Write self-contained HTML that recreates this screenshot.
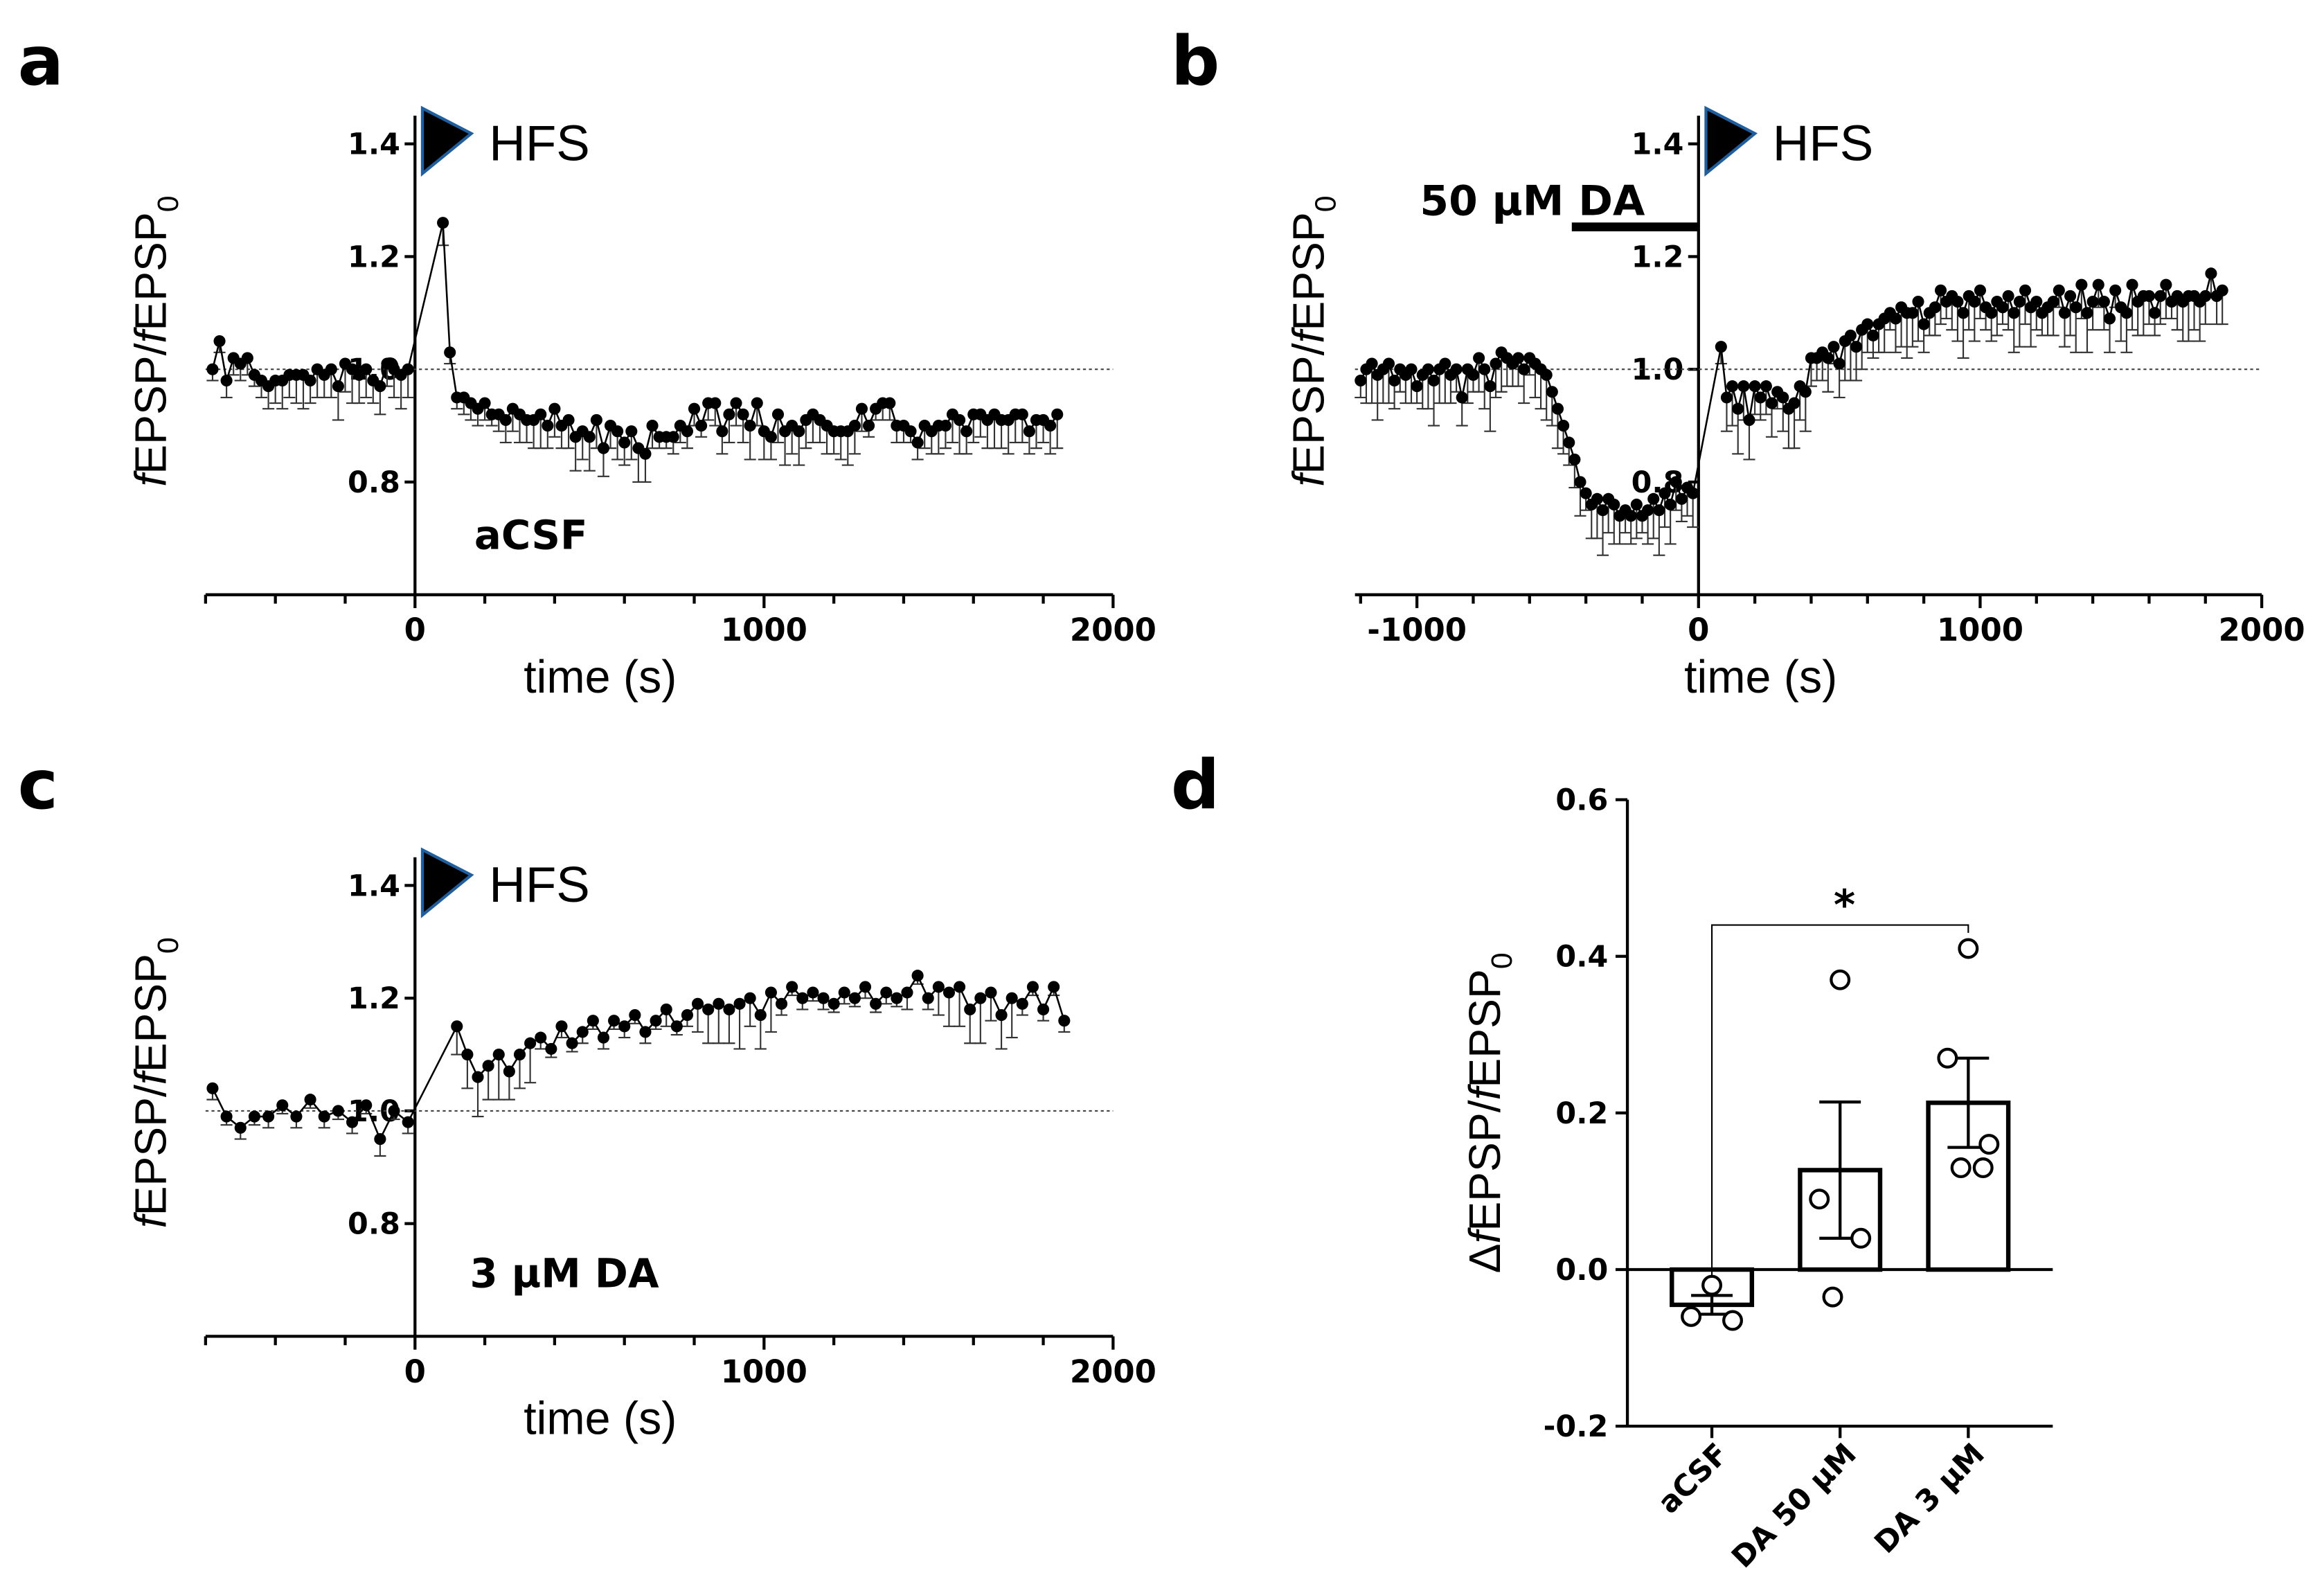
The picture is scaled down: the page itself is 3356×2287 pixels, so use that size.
<!DOCTYPE html>
<html><head><meta charset="utf-8"><style>
html,body{margin:0;padding:0;background:#fff}
svg{display:block}
text{font-family:"Liberation Sans",sans-serif}
.b{font-family:"DejaVu Sans","Liberation Sans",sans-serif;font-weight:bold}
</style></head><body>
<svg id="fig" width="3356" height="2287" viewBox="0 0 1568 1068" preserveAspectRatio="none" xmlns="http://www.w3.org/2000/svg"></svg>
<script>
// Panel a data
const aPreStart=-580, aStep=20;
const aPre=[1.0,1.05,0.98,1.02,1.01,1.02,0.99,0.98,0.97,0.98,0.98,0.99,0.99,0.99,0.98,1.0,0.99,1.0,0.97,1.01,1.0,0.99,1.0,0.98,0.97,1.01,1.0,0.99,1.0];
const aPostStart=80;
const aPost=[1.26,1.03,0.95,0.95,0.94,0.93,0.94,0.92,0.92,0.91,0.93,0.92,0.91,0.91,0.92,0.90,0.93,0.90,0.91,0.88,0.89,0.88,0.91,0.86,0.90,0.89,0.87,0.89,0.86,0.85,0.90,0.88,0.88,0.88,0.90,0.89,0.93,0.90,0.94,0.94,0.89,0.92,0.94,0.92,0.90,0.94,0.89,0.88,0.92,0.89,0.90,0.89,0.91,0.92,0.91,0.90,0.89,0.89,0.89,0.90,0.93,0.90,0.93,0.94,0.94,0.90,0.90,0.89,0.87,0.90,0.89,0.90,0.90,0.92,0.91,0.89,0.92,0.92,0.91,0.92,0.91,0.91,0.92,0.92,0.89,0.91,0.91,0.90,0.92];
const aErr=[0.02,0.02,0.03,0.03,0.03,0.03,0.02,0.03,0.04,0.04,0.05,0.04,0.05,0.06,0.04,0.05,0.04,0.05,0.06,0.05,0.06,0.05,0.05,0.04,0.05,0.04,0.05,0.06,0.05,0.04];
// Panel b data
const bPreStart=-1200, bStep=20;
const bPre=[0.98,1.0,1.01,0.99,1.0,1.01,0.98,1.0,0.99,1.0,0.97,0.99,1.0,0.98,1.0,1.01,0.99,1.0,0.95,1.0,0.99,1.02,1.0,0.97,1.01,1.03,1.02,1.01,1.02,1.0,1.02,1.01,1.0,0.99,0.96,0.93,0.90,0.87,0.84,0.80,0.78,0.76,0.77,0.75,0.77,0.76,0.74,0.75,0.74,0.76,0.74,0.75,0.77,0.75,0.78,0.76,0.80,0.77,0.79,0.78];
const bPostStart=80;
const bPost=[1.04,0.95,0.97,0.93,0.97,0.91,0.97,0.95,0.97,0.94,0.96,0.95,0.93,0.94,0.97,0.96,1.02,1.02,1.03,1.02,1.04,1.01,1.05,1.06,1.04,1.07,1.08,1.06,1.08,1.09,1.10,1.09,1.11,1.10,1.10,1.12,1.08,1.10,1.11,1.14,1.12,1.13,1.12,1.10,1.13,1.12,1.14,1.11,1.10,1.12,1.11,1.13,1.10,1.12,1.14,1.11,1.12,1.10,1.11,1.12,1.14,1.10,1.13,1.11,1.15,1.10,1.12,1.15,1.12,1.09,1.14,1.11,1.10,1.15,1.12,1.13,1.13,1.10,1.13,1.15,1.12,1.13,1.12,1.13,1.13,1.12,1.13,1.17,1.13,1.14];
const bErr=[0.03,0.06,0.07,0.08,0.06,0.07,0.05,0.04,0.05,0.06];
// Panel c data
const cPreStart=-580, cStep=40;
const cPre=[1.04,0.99,0.97,0.99,0.99,1.01,0.99,1.02,0.99,1.0,0.98,1.01,0.95,1.0,0.98];
const cPostStart=120, cPostStep=30;
const cPost=[1.15,1.10,1.06,1.08,1.10,1.07,1.10,1.12,1.13,1.11,1.15,1.12,1.14,1.16,1.13,1.16,1.15,1.17,1.14,1.16,1.18,1.15,1.17,1.19,1.18,1.19,1.18,1.19,1.20,1.17,1.21,1.19,1.22,1.20,1.21,1.20,1.19,1.21,1.20,1.22,1.19,1.21,1.20,1.21,1.24,1.20,1.22,1.21,1.22,1.18,1.20,1.21,1.17,1.20,1.19,1.22,1.18,1.22,1.16];
const cErr=[0.02,0.015,0.02,0.015,0.02,0.015,0.02,0.015,0.02,0.015,0.02,0.015,0.03,0.015,0.02,0.05,0.06,0.07,0.06,0.08,0.05,0.06,0.07];
// Panel d data
const dCats=["aCSF","DA 50 µM","DA 3 µM"];
const dMeans=[-0.045,0.127,0.213];
const dSem=[0.012,0.087,0.057];
const dPts=[[-0.02,-0.06,-0.065],[0.37,0.09,0.04,-0.035],[0.41,0.27,0.16,0.13,0.13]];

const S=document.getElementById('fig'),NS='http://www.w3.org/2000/svg';
function mk(tag,at,par,name,txt){const e=document.createElementNS(NS,tag);for(const k in at)e.setAttribute(k,at[k]);


if(txt!==undefined)e.textContent=txt;(par||S).appendChild(e);return e;}

function panel(o){
 const g=mk('g',{},S,o.name);
 const X=t=>o.x0+(t)*o.sx, Y=v=>o.y1+(1.0-v)*380;
 mk('line',{x1:X(o.tmin),x2:X(o.tmax),y1:Y(0.6),y2:Y(0.6),stroke:'#000','stroke-width':2},g,'x-axis');
 mk('line',{x1:X(0),x2:X(0),y1:Y(0.6),y2:Y(1.45),stroke:'#000','stroke-width':2},g,'y-axis');
 for(let t=Math.ceil(o.tmin/200)*200;t<=o.tmax;t+=200){const maj=t%1000===0;
  mk('line',{x1:X(t),x2:X(t),y1:Y(0.6),y2:Y(0.6)+(maj?9:6),stroke:'#000','stroke-width':2},g,'x-tick');
  if(maj)mk('text',{x:X(t),y:Y(0.6)+31,'text-anchor':'middle','font-size':21,class:'b'},g,'x-tick-label',String(t));}
 [0.8,1.0,1.2,1.4].forEach(v=>{mk('line',{x1:X(0)-7,x2:X(0),y1:Y(v),y2:Y(v),stroke:'#000','stroke-width':2},g,'y-tick');
  mk('text',{x:X(0)-10,y:Y(v)+7,'text-anchor':'end','font-size':20,class:'b'},g,'y-tick-label',v.toFixed(1));});
 mk('line',{x1:X(o.tmin),x2:X(o.tmax),y1:Y(1),y2:Y(1),stroke:'#444','stroke-width':1,'stroke-dasharray':'2,2'},g,'baseline-dashed');
 mk('text',{x:o.tx,y:Y(0.6)+66,'text-anchor':'middle','font-size':31},g,'x-axis-title','time (s)');
 const yl=mk('text',{x:0,y:0,'text-anchor':'middle','font-size':30,transform:`translate(${o.ylx},${Y(1.05)}) rotate(-90)`},g,'y-axis-title');
 yl.innerHTML='<tspan font-style="italic">f</tspan>EPSP/<tspan font-style="italic">f</tspan>EPSP<tspan font-size="20" dy="8">0</tspan>';
 mk('polygon',{points:`${X(0)+5},${Y(1.4)+20} ${X(0)+5},${Y(1.4)-24} ${X(0)+38},${Y(1.4)-7}`,fill:'#000',stroke:'#1f5fa0','stroke-width':2},g,'hfs-marker');
 mk('text',{x:X(0)+50,y:Y(1.4)+11,'font-size':34},g,'hfs-label','HFS');
 const pts=[];
 o.pre.forEach((v,i)=>pts.push([o.preStart+o.preStep*i,v]));
 o.post.forEach((v,i)=>pts.push([o.postStart+o.postStep*i,v]));
 pts.forEach((p,i)=>{const e=o.err[i%o.err.length];
  mk('line',{x1:X(p[0]),x2:X(p[0]),y1:Y(p[1]),y2:Y(p[1]-e),stroke:'#333','stroke-width':1},g,'error-bar');
  mk('line',{x1:X(p[0])-4,x2:X(p[0])+4,y1:Y(p[1]-e),y2:Y(p[1]-e),stroke:'#333','stroke-width':1},g,'error-cap');});
 mk('polyline',{points:pts.map(p=>X(p[0])+','+Y(p[1])).join(' '),fill:'none',stroke:'#000','stroke-width':1.2},g,'series-line');
 pts.forEach(p=>mk('circle',{cx:X(p[0]),cy:Y(p[1]),r:4,fill:'#000'},g,'data-point'));
 return {X,Y,g};
}
const sx=0.2355;
const A=panel({name:'panel-a',x0:280,sx,tmin:-600,tmax:2000,y1:249,ylx:112,tx:405,pre:aPre,preStart:aPreStart,preStep:aStep,post:aPost,postStart:aPostStart,postStep:aStep,err:aErr});
mk('text',{x:320,y:370,'font-size':27,class:'b'},A.g,'condition-label','aCSF');
const B=panel({name:'panel-b',x0:1146,sx:0.19,tmin:-1220,tmax:2000,y1:249,ylx:893,tx:1188,pre:bPre,preStart:bPreStart,preStep:bStep,post:bPost,postStart:bPostStart,postStep:bStep,err:bErr});
mk('line',{x1:B.X(-450),x2:B.X(0),y1:153,y2:153,stroke:'#000','stroke-width':6},B.g,'da-application-bar');
mk('text',{x:958,y:145,'font-size':28,class:'b'},B.g,'da-label','50 µM DA');
const C=panel({name:'panel-c',x0:280,sx,tmin:-600,tmax:2000,y1:749,ylx:112,tx:405,pre:cPre,preStart:cPreStart,preStep:cStep,post:cPost,postStart:cPostStart,postStep:cPostStep,err:cErr});
mk('text',{x:317,y:868,'font-size':27,class:'b'},C.g,'condition-label','3 µM DA');
[['a',12,57],['b',790,57],['c',12,545],['d',790,545]].forEach(l=>mk('text',{x:l[1],y:l[2],'font-size':46,class:'b'},S,'panel-letter-'+l[0],l[0]));
const D=mk('g',{},S,'panel-d');
const dY=v=>856-v*528, dX=i=>1155+i*86.5;
mk('line',{x1:1098,x2:1098,y1:dY(0.6),y2:dY(-0.2),stroke:'#000','stroke-width':2},D,'y-axis');
mk('line',{x1:1098,x2:1385,y1:dY(-0.2),y2:dY(-0.2),stroke:'#000','stroke-width':2},D,'x-axis');
mk('line',{x1:1098,x2:1385,y1:dY(0),y2:dY(0),stroke:'#000','stroke-width':2},D,'zero-line');
[0.6,0.4,0.2,0.0,-0.2].forEach(v=>{mk('line',{x1:1090,x2:1098,y1:dY(v),y2:dY(v),stroke:'#000','stroke-width':2},D,'y-tick');
 mk('text',{x:1085,y:dY(v)+7,'text-anchor':'end','font-size':20,class:'b'},D,'y-tick-label',v.toFixed(1));});
const dl=mk('text',{transform:`translate(1012,${dY(0.2)}) rotate(-90)`,'text-anchor':'middle','font-size':30},D,'y-axis-title');
dl.innerHTML='Δ<tspan font-style="italic">f</tspan>EPSP/<tspan font-style="italic">f</tspan>EPSP<tspan font-size="20" dy="8">0</tspan>';
const jit=[0,-14,14,-5,10];
dCats.forEach((c,i)=>{const x=dX(i),m=dMeans[i];
 mk('rect',{x:x-27,y:Math.min(dY(m),dY(0)),width:54,height:Math.abs(dY(m)-dY(0)),fill:'#fff',stroke:'#000','stroke-width':3},D,'bar-'+i);
 mk('line',{x1:x,x2:x,y1:dY(m-dSem[i]),y2:dY(m+dSem[i]),stroke:'#000','stroke-width':2},D,'bar-error');
 [m-dSem[i],m+dSem[i]].forEach(v=>mk('line',{x1:x-14,x2:x+14,y1:dY(v),y2:dY(v),stroke:'#000','stroke-width':2},D,'bar-error-cap'));
 dPts[i].forEach((v,j)=>mk('circle',{cx:x+jit[j],cy:dY(v),r:6,fill:'#fff',stroke:'#000','stroke-width':2},D,'individual-point'));
 mk('line',{x1:x,x2:x,y1:dY(-0.2),y2:dY(-0.2)+8,stroke:'#000','stroke-width':2},D,'x-tick');
 mk('text',{transform:`translate(${x+12},${dY(-0.2)+20}) rotate(-45)`,'text-anchor':'end','font-size':20,class:'b'},D,'x-tick-label',c);});
mk('polyline',{points:`${dX(0)},${dY(-0.01)} ${dX(0)},${dY(0.44)} ${dX(2)},${dY(0.44)} ${dX(2)},${dY(0.43)}`,fill:'none',stroke:'#000','stroke-width':1},D,'significance-bracket');
mk('text',{x:(dX(0)+dX(2))/2+3,y:dY(0.44)-4,'text-anchor':'middle','font-size':28,class:'b'},D,'significance-star','*');
</script>
</body></html>
